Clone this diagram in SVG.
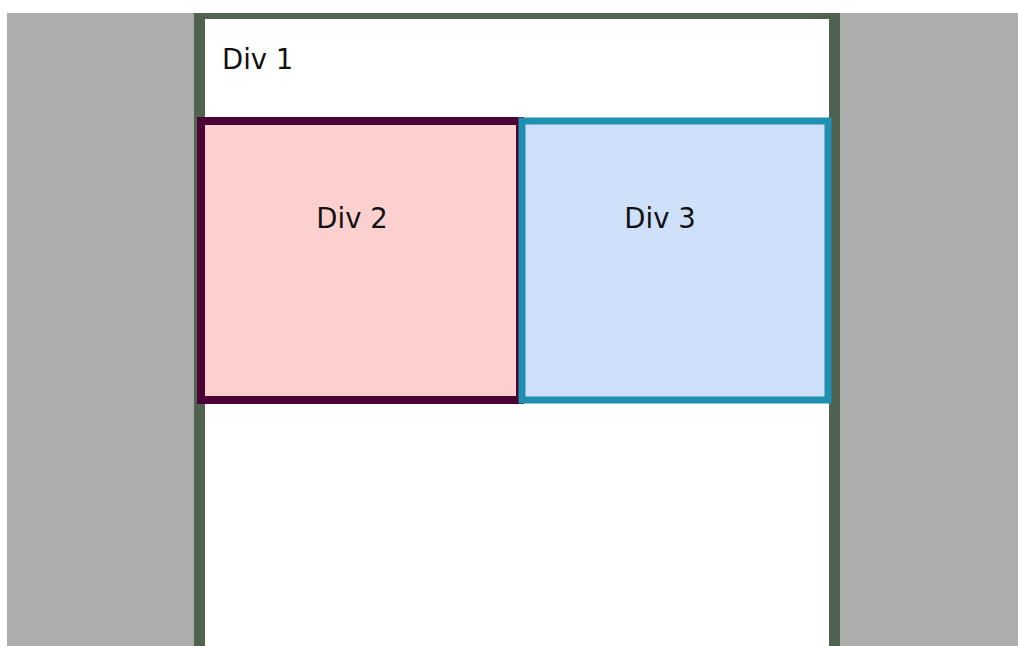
<svg xmlns="http://www.w3.org/2000/svg" width="1018" height="646" viewBox="0 0 1018 646">
<style>
.lbl{font-family:"DejaVu Sans","Liberation Sans",sans-serif;font-size:27.5px;fill:#111111}
</style>
<rect x="0" y="0" width="1018" height="646" fill="#ffffff"/>
<rect x="7" y="13" width="1011" height="633" fill="#adadad"/>
<g id="div1">
<rect x="194" y="13" width="646" height="640" fill="#4f6350"/>
<rect x="205" y="19" width="624" height="640" fill="#ffffff"/>
<text class="lbl" x="222" y="69">Div 1</text>
</g>
<g id="div2">
<rect x="201" y="121" width="319" height="279" fill="#fdd0d0" stroke="#4b0336" stroke-width="8"/>
<text class="lbl" x="352" y="228" text-anchor="middle">Div 2</text>
</g>
<g id="div3">
<rect x="522" y="121" width="306" height="279" fill="#cfe0fb" stroke="#1f8fb0" stroke-width="7"/>
<text class="lbl" x="660" y="228" text-anchor="middle">Div 3</text>
</g>
<g id="connectors"/>
</svg>
